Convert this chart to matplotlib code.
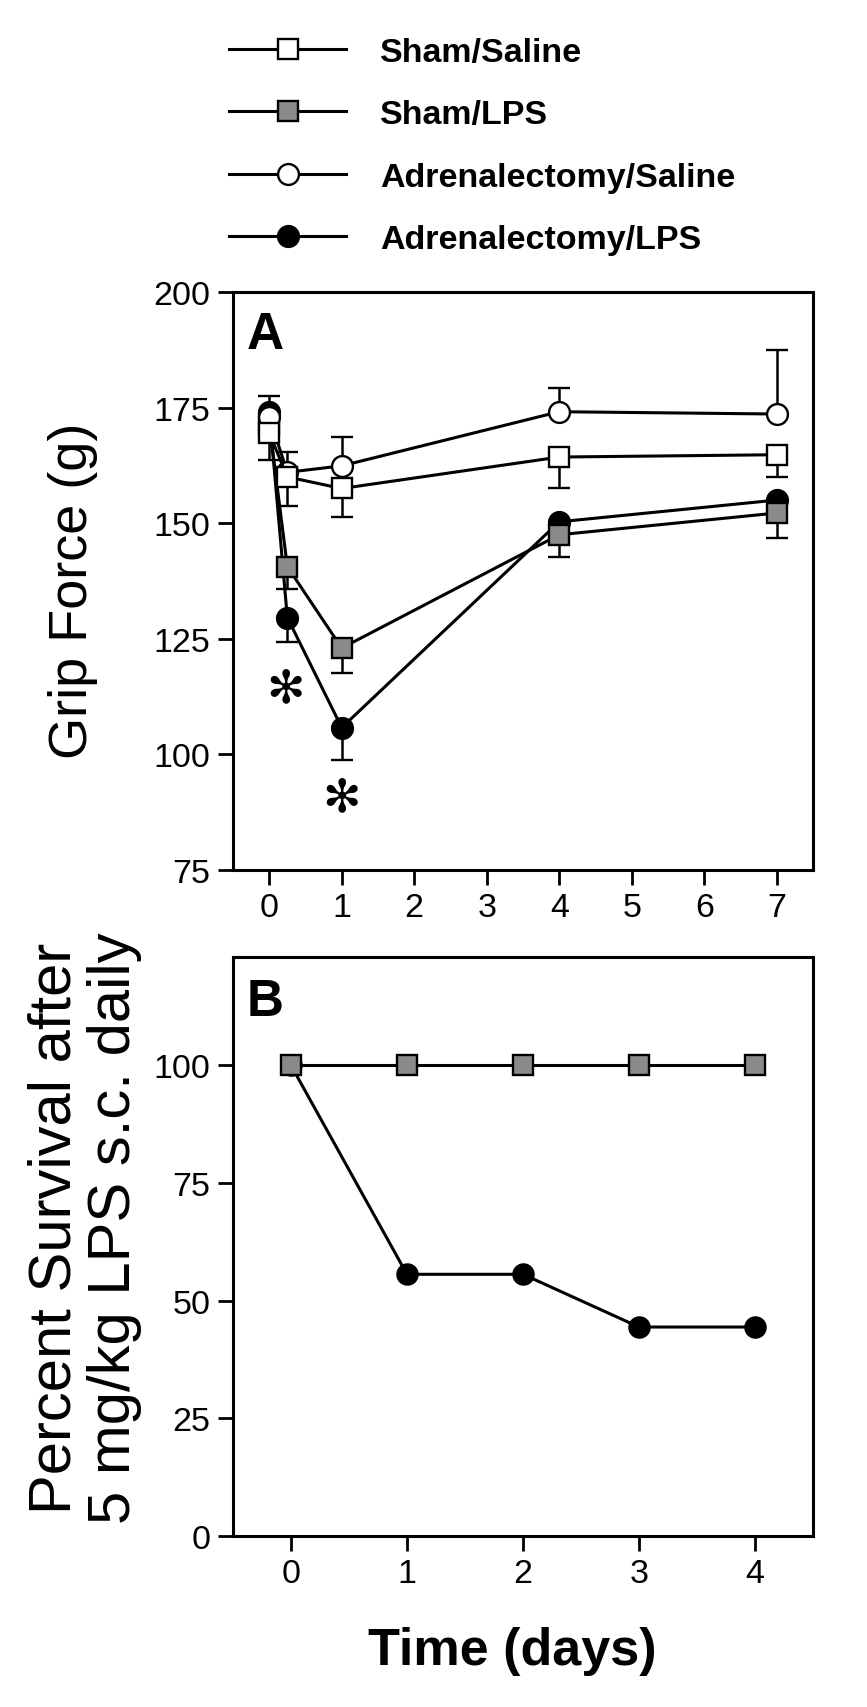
import matplotlib.pyplot as plt
import numpy as np
from matplotlib.lines import Line2D

plt.rcParams['font.family'] = ['Liberation Sans', 'DejaVu Sans']

# panel A: grip force (g), time in days
days_a = np.array([0, 0.25, 1, 4, 7])
sham_saline = np.array([169.5, 160.0, 157.5, 164.3, 164.8])
sham_saline_lo = np.array([5.8, 6.2, 6.1, 6.7, 4.8])
sham_lps = np.array([171.5, 140.6, 123.0, 147.5, 152.2])
sham_lps_lo = np.array([0, 4.8, 5.3, 4.8, 5.4])
adx_saline = np.array([173.0, 161.0, 162.4, 174.1, 173.6])
adx_saline_hi = np.array([4.5, 4.4, 6.3, 5.2, 13.9])
adx_lps = np.array([174.0, 129.6, 105.8, 150.3, 155.0])
adx_lps_lo = np.array([0, 5.2, 6.9, 0, 0])

# significance marks (day, grip force)
star_x = [0.22, 1.0]
star_y = [114.2, 90.6]

# panel B: percent survival
days_b = np.array([0, 1, 2, 3, 4])
surv_sham_lps = np.array([100, 100, 100, 100, 100])
surv_adx_lps = np.array([100, 55.6, 55.6, 44.4, 44.4])

labels = ['Sham/Saline', 'Sham/LPS', 'Adrenalectomy/Saline', 'Adrenalectomy/LPS']
GREY = '#8a8a8a'
styles = {
    'Sham/Saline': dict(marker='s', mfc='white'),
    'Sham/LPS': dict(marker='s', mfc=GREY),
    'Adrenalectomy/Saline': dict(marker='o', mfc='white'),
    'Adrenalectomy/LPS': dict(marker='o', mfc='black'),
}
MS = 15
LW = 2.2

fig = plt.figure(figsize=(8.67, 17.08), dpi=100)
ax_a = fig.add_axes([0.2687, 0.4900, 0.6690, 0.3385])
ax_b = fig.add_axes([0.2687, 0.1001, 0.6690, 0.3390])

# draw order: black circles first, open squares on top
series_a = [
    ('Adrenalectomy/LPS', adx_lps, adx_lps_lo, np.zeros(5)),
    ('Sham/LPS', sham_lps, sham_lps_lo, np.zeros(5)),
    ('Adrenalectomy/Saline', adx_saline, np.zeros(5), adx_saline_hi),
    ('Sham/Saline', sham_saline, sham_saline_lo, np.zeros(5)),
]
for i, (name, y, lo, hi) in enumerate(series_a):
    st = styles[name]
    ax_a.errorbar(days_a, y, yerr=[lo, hi], color='black', lw=LW,
                  marker=st['marker'], ms=MS, mfc=st['mfc'], mec='black', mew=1.7,
                  ecolor='black', elinewidth=1.8, capsize=8, capthick=2.0,
                  zorder=3 + i)

for sx, sy in zip(star_x, star_y):
    ax_a.text(sx, sy, '\u273B', ha='center', va='center', fontsize=33,
              family='DejaVu Sans', zorder=10)

ax_b.plot(days_b, surv_adx_lps, color='black', lw=LW, marker='o', ms=14.5,
          mfc='black', mec='black', mew=1.7, zorder=3)
ax_b.plot(days_b, surv_sham_lps, color='black', lw=LW, marker='s', ms=14.5,
          mfc=GREY, mec='black', mew=1.7, zorder=4)

ax_a.set_xlim(-0.5, 7.5)
ax_a.set_ylim(75, 200)
ax_a.set_xticks(range(0, 8))
ax_a.set_yticks(range(75, 201, 25))
ax_b.set_xlim(-0.5, 4.5)
ax_b.set_ylim(0, 123)
ax_b.set_xticks(range(0, 5))
ax_b.set_yticks(range(0, 101, 25))

for ax in (ax_a, ax_b):
    for sp in ax.spines.values():
        sp.set_linewidth(2.2)
    ax.tick_params(direction='out', length=11, width=2, labelsize=24.5, pad=5,
                   top=False, right=False)

ax_a.text(0.024, 0.969, 'A', transform=ax_a.transAxes, fontsize=37,
          fontweight='bold', ha='left', va='top')
ax_b.text(0.024, 0.966, 'B', transform=ax_b.transAxes, fontsize=37,
          fontweight='bold', ha='left', va='top')

ax_a.set_ylabel('Grip Force (g)', fontsize=39)
ax_a.yaxis.set_label_coords(-0.232, 0.485)
ax_b.set_ylabel('Percent Survival after\n5 mg/kg LPS s.c. daily', fontsize=43,
                linespacing=1.1)
ax_b.yaxis.set_label_coords(-0.157, 0.533)
ax_b.set_xlabel('Time (days)', fontsize=37.5, fontweight='bold')
ax_b.xaxis.set_label_coords(0.481, -0.155)

handles = [Line2D([], [], color='black', lw=LW, marker=styles[n]['marker'], ms=MS,
                  mfc=styles[n]['mfc'], mec='black', mew=1.7) for n in labels]
fig.legend(handles, labels, loc='upper left', bbox_to_anchor=(229 / 867, 1 - 38 / 1708),
           frameon=False, borderpad=0, borderaxespad=0, handlelength=3.44,
           handletextpad=1.0, labelspacing=0.92, prop=dict(size=24.5, weight='bold'))

fig.savefig('out.png', dpi=100)
